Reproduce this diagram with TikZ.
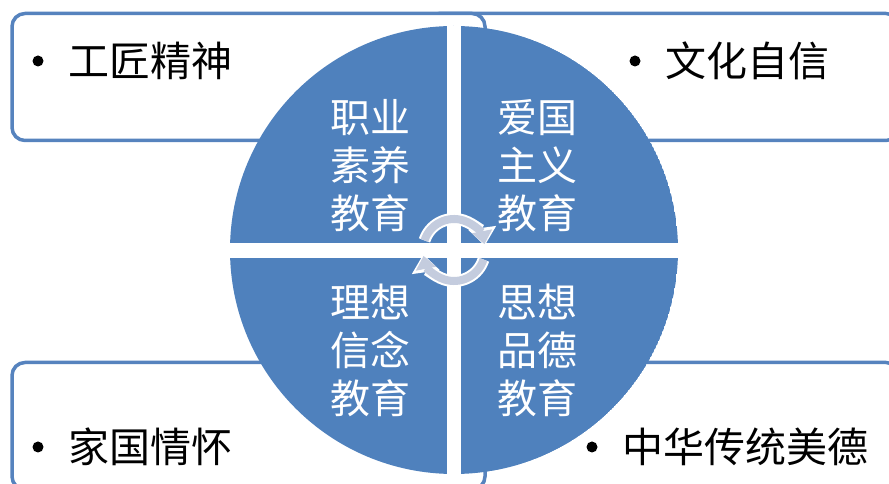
\documentclass[tikz,border=0pt]{standalone}
\usepackage{fontspec}
\newfontfamily\cjk{Noto Sans CJK SC}
\usetikzlibrary{arrows.meta}
\definecolor{quadBlue}{RGB}{79,129,189}
\definecolor{boxBlue}{RGB}{86,131,190}
\definecolor{arrowGrey}{RGB}{196,204,222}

\begin{document}
\begin{tikzpicture}
[x=1pt,y=1pt,%
  boxDecorate/.style={draw=boxBlue,line width=3.5pt,fill=white,rounded corners=13pt,
    minimum width=473pt,minimum height=127pt,inner sep=0pt},%
  itemDecorate/.style={font=\cjk\fontsize{41}{41}\selectfont,anchor=west,inner sep=0pt},%
  bulletDecorate/.style={shape=circle,fill=black,minimum size=11pt,inner sep=0pt},%
  quadDecorate/.style={font=\cjk\fontsize{40}{48}\selectfont,text=white,align=center,inner sep=0pt},%
  arcBack/.style={draw=white,line width=12pt,-{Triangle[length=18pt,width=27pt]}},%
  arcFront/.style={draw=arrowGrey,line width=8pt,-{Triangle[length=13pt,width=20pt]}}]
\useasboundingbox (0,0) rectangle (889,484);
%% boxes behind the circle
\foreach \nodename/\x/\y in {boxTR/662.5/407, boxTL/248.5/407, boxBR/662.5/58, boxBL/248.5/58}
{
  \node (\nodename) at (\x,\y) [boxDecorate] {};
}
%% bullet items
\foreach \nodename/\x/\y/\txt in {itemTL/68/423/工匠精神, itemTR/665/423/文化自信,
  itemBL/68/37/家国情怀, itemBR/622/37/中华传统美德}
{
  \node (\nodename) at (\x,\y) [itemDecorate] {\txt};
  \node (\nodename-dot) at ([xshift=-30pt]\nodename.west) [bulletDecorate] {};
}
%% the four quarters
\coordinate (hub) at (454,234);
\begin{scope}
  \clip (hub) circle (224);
  \fill[quadBlue] (hub) circle (224);
  \fill[white] (447,0) rectangle (461,484);
  \fill[white] (0,226) rectangle (889,241);
\end{scope}
\foreach \nodename/\x/\y/\txt in {quadTL/370/318/{职业\\素养\\教育}, quadTR/537/318/{爱国\\主义\\教育},
  quadBL/370/134/{理想\\信念\\教育}, quadBR/537/134/{思想\\品德\\教育}}
{
  \node (\nodename) at (\x,\y) [quadDecorate] {\txt};
}
%% cycle arrows
\draw[arcBack] (hub) ++(162:31) arc[start angle=162,end angle=8,radius=31];
\draw[arcFront] (hub) ++(162:31) arc[start angle=162,end angle=11,radius=31];
\draw[arcBack] (hub) ++(-18:31) arc[start angle=-18,end angle=-172,radius=31];
\draw[arcFront] (hub) ++(-18:31) arc[start angle=-18,end angle=-169,radius=31];
\end{tikzpicture}
\end{document}
